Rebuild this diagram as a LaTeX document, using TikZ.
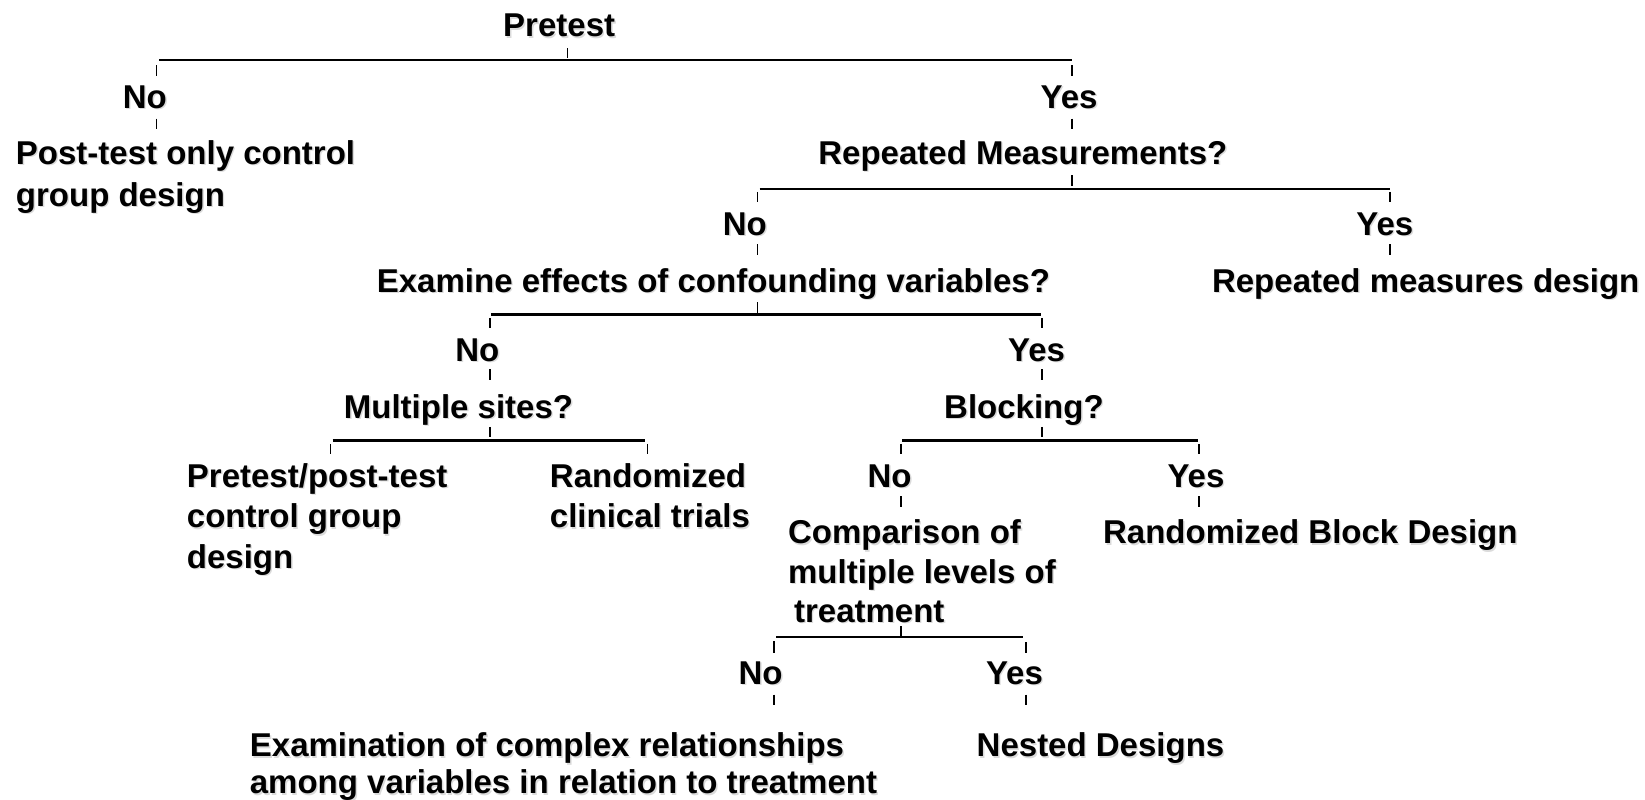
\documentclass[tikz,border=0pt]{standalone}
\usepackage{fontspec}
\setmainfont{Liberation Sans}
\usetikzlibrary{positioning,calc}
% soft grey drop shadow behind a line of text
\newcommand{\sh}[1]{\leavevmode\rlap{\kern1.4pt\raisebox{-1.4pt}{\color{black!14}#1}}#1}

\begin{document}
\begin{tikzpicture}[x=1.049pt,y=-1.049pt,
  lbl/.style={font=\bfseries\fontsize{33}{40}\selectfont, inner sep=0pt, anchor=base},
  blk/.style={font=\bfseries\fontsize{33}{#1}\selectfont, inner sep=0pt, align=left, anchor=north west},
  bar/.style={line width=2.6pt},
  tk/.style={line width=1.6pt}]
  \useasboundingbox (0,0) rectangle (1568,762);
  % Pretest split
  \node[lbl] (pre) at (533,35) {\sh{Pretest}};
  \coordinate (b1l) at (152,57); \coordinate (b1r) at (1022,57);
  \draw[bar] (b1l) -- (b1r);
  \draw[tk] (541,46) -- (541,55);
  \draw[tk] (b1l) ++(-3,5) -- ++(0,10);
  \draw[tk] (b1r) ++(0,5) -- ++(0,10);
  \node[lbl] (no1) at (138,103.5) {\sh{No}};
  \node[lbl] (yes1) at (1019,103.5) {\sh{Yes}};
  \draw[tk] (149,113) -- (149,123);
  \draw[tk] (1022,113) -- (1022,123);
  \node[blk=42] (postonly) at (15,133.5) {\sh{Post-test only control}\\\sh{group design}};
  % Repeated measurements split
  \node[lbl] (rm) at (975,156.5) {\sh{Repeated Measurements?}};
  \coordinate (b2l) at (724,180); \coordinate (b2r) at (1325,180);
  \draw[bar] (b2l) -- (b2r);
  \draw[tk] (1022,167) -- (1022,177);
  \draw[tk] (b2l) ++(-2,3) -- ++(0,10);
  \draw[tk] (b2r) ++(0,3) -- ++(0,10);
  \node[lbl] (no2) at (710,224.5) {\sh{No}};
  \node[lbl] (yes2) at (1320,224.5) {\sh{Yes}};
  \draw[tk] (722,233) -- (722,243);
  \draw[tk] (1325,233) -- (1325,243);
  \node[lbl] (rmd) at (1359,278.5) {\sh{Repeated measures design}};
  % Confounding variables split
  \node[lbl] (exam) at (680,278.5) {\sh{Examine effects of confounding variables?}};
  \coordinate (b3l) at (468,300); \coordinate (b3r) at (992,300);
  \draw[bar] (b3l) -- (b3r);
  \draw[tk] (722,288) -- (722,298);
  \draw[tk] (b3l) ++(-1,3) -- ++(0,10);
  \draw[tk] (b3r) ++(1,3) -- ++(0,10);
  \node[lbl] (no3) at (455,344.5) {\sh{No}};
  \node[lbl] (yes3) at (988,344.5) {\sh{Yes}};
  \draw[tk] (467,352) -- (467,362);
  \draw[tk] (993,352) -- (993,362);
  % Multiple sites split
  \node[lbl] (ms) at (437,398.5) {\sh{Multiple sites?}};
  \coordinate (b4l) at (317,420); \coordinate (b4r) at (615,420);
  \draw[bar] (b4l) -- (b4r);
  \draw[tk] (467,407) -- (467,417);
  \draw[tk] (b4l) ++(-2,3) -- ++(0,10);
  \draw[tk] (b4r) ++(2,3) -- ++(0,10);
  \node[blk=40.4] (pp) at (178,441.5) {\sh{Pretest/post-test}\\\sh{control group}\\\sh{design}};
  \node[blk=40.4] (rct) at (524,441.5) {\sh{Randomized}\\\sh{clinical trials}};
  % Blocking split
  \node[lbl] (blk) at (976,398.5) {\sh{Blocking?}};
  \coordinate (b5l) at (860,420); \coordinate (b5r) at (1142,420);
  \draw[bar] (b5l) -- (b5r);
  \draw[tk] (993,407) -- (993,417);
  \draw[tk] (b5l) ++(-1,3) -- ++(0,10);
  \draw[tk] (b5r) ++(1,3) -- ++(0,10);
  \node[lbl] (no4) at (848,464.5) {\sh{No}};
  \node[lbl] (yes4) at (1140,464.5) {\sh{Yes}};
  \draw[tk] (859,473) -- (859,483);
  \draw[tk] (1143,473) -- (1143,483);
  \node[lbl] (rbd) at (1249,518.5) {\sh{Randomized Block Design}};
  % Treatment levels split
  \node[blk=39.3] (cmp) at (751,495.5) {\sh{Comparison of}\\\sh{multiple levels of}\\\hspace*{6pt}\sh{treatment}};
  \coordinate (b6l) at (740,607); \coordinate (b6r) at (975,607);
  \draw[bar] (b6l) -- (b6r);
  \draw[tk] (859,597) -- (859,606);
  \draw[tk] (b6l) ++(-2,4) -- ++(0,11);
  \draw[tk] (b6r) ++(3,5) -- ++(0,10);
  \node[lbl] (no5) at (725,652.5) {\sh{No}};
  \node[lbl] (yes5) at (967,652.5) {\sh{Yes}};
  \draw[tk] (738,662) -- (738,672);
  \draw[tk] (978,662) -- (978,672);
  \node[blk=36.7] (ecr) at (238,698.5) {\sh{Examination of complex relationships}\\\sh{among variables in relation to treatment}};
  \node[lbl] (nest) at (1049,721.5) {\sh{Nested Designs}};
\end{tikzpicture}
\end{document}
